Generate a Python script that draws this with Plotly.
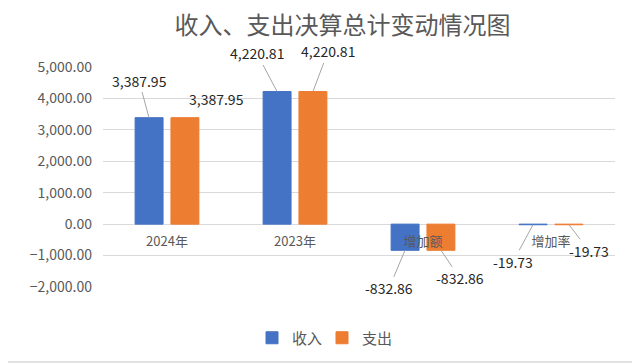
import plotly.graph_objects as go

categories = ["2024年", "2023年", "增加额", "增加率"]
income = [3387.95, 4220.81, -832.86, -19.73]
expense = [3387.95, 4220.81, -832.86, -19.73]
y_ticks = [-2000, -1000, 0, 1000, 2000, 3000, 4000, 5000]

FONT = "Noto Sans CJK SC, Noto Sans, sans-serif"
BLUE = "#4472C4"
ORANGE = "#ED7D31"
GRID = "#D9D9D9"

fig = go.Figure()
fig.add_trace(go.Bar(name="收入", x=categories, y=income, marker_color=BLUE,
                     marker_line=dict(color=BLUE, width=1)))
fig.add_trace(go.Bar(name="支出", x=categories, y=expense, marker_color=ORANGE,
                     marker_line=dict(color=ORANGE, width=1)))

# label offsets (pixels) for callouts: (ax, ay, show line)
income_off = [(-10, -37, True), (-20, -38, True), (-16, 38, True), (-20, 37, True)]
expense_off = [(31, -19, False), (15, -40, True), (19, 28, True), (20, 26, True)]

annotations = []
for vals, offs, shift in ((income, income_off, -18), (expense, expense_off, 18)):
    for c, v, (ax, ay, line) in zip(categories, vals, offs):
        annotations.append(dict(
            x=c, y=v, xref="x", yref="y", xshift=shift,
            text=f"{v:,.2f}", showarrow=True, arrowhead=0, arrowwidth=1,
            arrowcolor="#A6A6A6" if line else "rgba(0,0,0,0)",
            ax=ax, ay=ay, standoff=0,
            font=dict(family=FONT, size=14, color="#262626"),
        ))

W, H = 632, 356  # page body has an 8px margin
L, T, R, B = 95, 59, 25, 77
PW, PH = W - L - R, H - T - B

fig.update_layout(
    width=W, height=H,
    margin=dict(l=L, r=R, t=T, b=B, autoexpand=False),
    paper_bgcolor="white", plot_bgcolor="white",
    barmode="group", bargap=0.44, bargroupgap=0.22,
    title=dict(text="收入、支出决算总计变动情况图", x=(342.5 - 103) / PW, xref="paper",
               xanchor="center", y=1 - 17.5 / H, yref="container", yanchor="middle",
               font=dict(family=FONT, size=24, color="#595959")),
    font=dict(family=FONT, color="#595959"),
    xaxis=dict(anchor="free", position=2000 / 7000, showline=False,
               showgrid=False, ticks="", ticklabelstandoff=8,
               automargin=False, layer="above traces",
               tickfont=dict(family=FONT, size=13, color="#595959")),
    yaxis=dict(range=[-2000, 5000], tickvals=y_ticks, tickformat=",.2f",
               showgrid=True, gridcolor=GRID, gridwidth=1, zeroline=True,
               zerolinecolor=GRID, zerolinewidth=1, ticks="", ticklabelstandoff=10,
               automargin=False,
               tickfont=dict(family=FONT, size=14, color="#595959")),
    showlegend=True,
    legend=dict(orientation="h", x=(314 - 95) / PW, xanchor="center",
                y=(287 - 338) / PH, yanchor="middle",
                font=dict(family=FONT, size=15, color="#595959"),
                itemwidth=30, tracegroupgap=0, entrywidth=25),
    annotations=annotations,
    shapes=[dict(type="rect", xref="paper", yref="paper",
                 x0=(-20 - 95) / PW, x1=(626 - 95) / PW,
                 y0=(279 - 354) / PH, y1=(279 + 30) / PH,
                 line=dict(color=GRID, width=1.5), fillcolor="rgba(0,0,0,0)")],
)

fig.write_html("out.html")
